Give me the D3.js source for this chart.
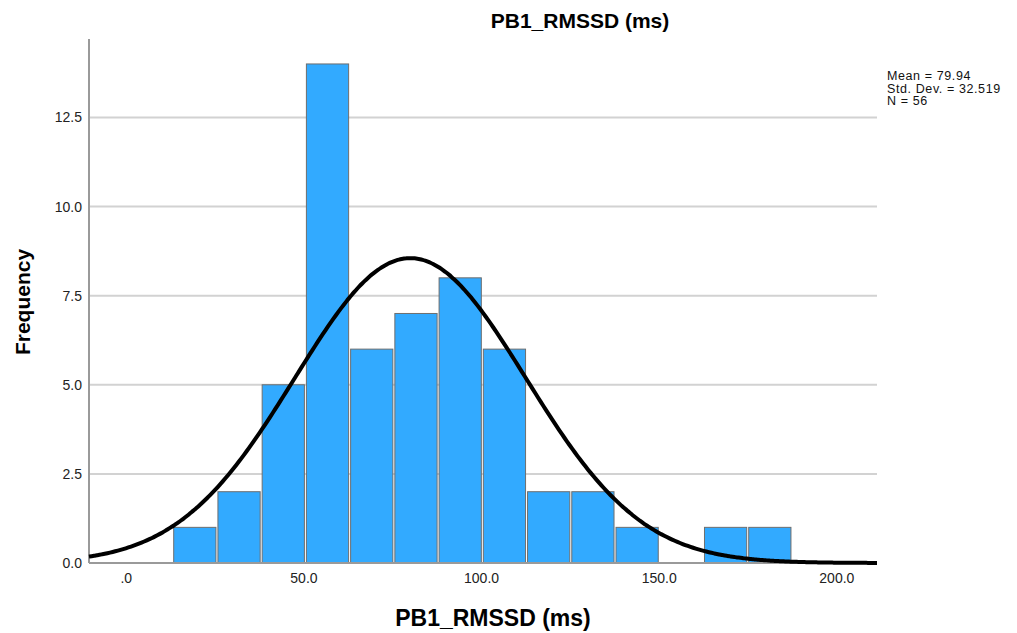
<!DOCTYPE html>
<html>
<head>
<meta charset="utf-8">
<script src="https://cdn.jsdelivr.net/npm/d3@7"></script>
<style>
  html, body { margin: 0; padding: 0; background: #fff; }
  svg { display: block; font-family: "Liberation Sans", Arial, sans-serif; }
</style>
</head>
<body>
<svg id="chart" width="1017" height="633"></svg>
<script>
// histogram data
const counts = [1, 2, 5, 14, 6, 7, 8, 6, 2, 2, 1, 0, 1, 1];
const binStart = 13.2;
const binWidth = 12.45;
const xTicks = [0, 50, 100, 150, 200];
const yTicks = [0, 2.5, 5, 7.5, 10, 12.5];
const statMean = 79.94, statSD = 32.519, statN = 56;
const statLines = ["Mean = 79.94", "Std. Dev. = 32.519", "N = 56"];
const titleText = "PB1_RMSSD (ms)";

const L = 89, R = 877, T = 39, B = 563;

const svg = d3.select("#chart");
const x = d3.scaleLinear().domain([-10.5, 211.3]).range([L, R]);
const y = d3.scaleLinear().domain([0, 14.7]).range([B, T]);

const fmtX = v => v === 0 ? ".0" : d3.format(".1f")(v);
const fmtY = d3.format(".1f");

// gridlines
svg.append("g").selectAll("line")
  .data(yTicks.filter(v => v > 0))
  .join("line")
  .attr("x1", L).attr("x2", R)
  .attr("y1", d => y(d)).attr("y2", d => y(d))
  .attr("stroke", "#d2d2d2").attr("stroke-width", 2);

// bars (thin white seam between neighbours, as SPSS draws them)
const bins = counts.map((c, i) => ({ x0: binStart + i * binWidth, x1: binStart + (i + 1) * binWidth, c }));
svg.append("g").selectAll("rect")
  .data(bins.filter(b => b.c > 0))
  .join("rect")
  .attr("x", d => x(d.x0) + 0.5)
  .attr("width", d => x(d.x1) - x(d.x0) - 2)
  .attr("y", d => y(d.c))
  .attr("height", d => y(0) - y(d.c))
  .attr("fill", "#32aaff")
  .attr("stroke", "#6e6e6e").attr("stroke-width", 1);

// axis lines
svg.append("line").attr("x1", L).attr("x2", L).attr("y1", T).attr("y2", B)
  .attr("stroke", "#9a9a9a").attr("stroke-width", 2);
svg.append("line").attr("x1", L).attr("x2", R).attr("y1", B).attr("y2", B)
  .attr("stroke", "#9a9a9a").attr("stroke-width", 2);

// fitted normal curve
const scaleF = statN * binWidth;
const pts = d3.range(0, 301).map(i => {
  const v = x.domain()[0] + (x.domain()[1] - x.domain()[0]) * i / 300;
  const z = (v - statMean) / statSD;
  return [v, scaleF * Math.exp(-0.5 * z * z) / (statSD * Math.sqrt(2 * Math.PI))];
});
svg.append("path")
  .datum(pts)
  .attr("d", d3.line().x(d => x(d[0])).y(d => y(d[1])).curve(d3.curveBasis))
  .attr("fill", "none").attr("stroke", "#000").attr("stroke-width", 4);

// tick labels
svg.append("g").selectAll("text")
  .data(xTicks)
  .join("text")
  .attr("x", d => x(d)).attr("y", 583)
  .attr("text-anchor", "middle")
  .attr("font-size", 14).attr("fill", "#222")
  .text(fmtX);
svg.append("g").selectAll("text")
  .data(yTicks)
  .join("text")
  .attr("x", 82).attr("y", d => y(d) + 5)
  .attr("text-anchor", "end")
  .attr("font-size", 14).attr("fill", "#222")
  .text(fmtY);

// titles
svg.append("text").attr("x", 580).attr("y", 28)
  .attr("text-anchor", "middle").attr("font-size", 21).attr("font-weight", "bold")
  .text(titleText);
svg.append("text").attr("x", 493).attr("y", 626)
  .attr("text-anchor", "middle").attr("font-size", 23).attr("font-weight", "bold")
  .text(titleText);
svg.append("text")
  .attr("transform", "translate(30,302) rotate(-90)")
  .attr("text-anchor", "middle").attr("font-size", 21).attr("font-weight", "bold")
  .text("Frequency");

// stats block
svg.append("g").selectAll("text")
  .data(statLines)
  .join("text")
  .attr("x", 887).attr("y", (d, i) => 80 + i * 12.5)
  .attr("font-size", 12.5).attr("letter-spacing", 0.6).attr("fill", "#111")
  .text(d => d);
</script>
</body>
</html>
